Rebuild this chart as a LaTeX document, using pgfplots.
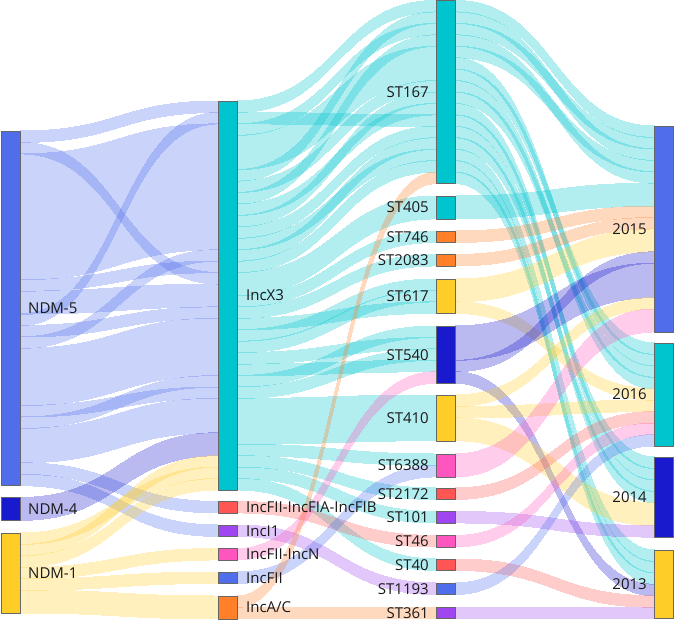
\documentclass[border=0pt]{standalone}
\usepackage{pgfplots}
\pgfplotsset{compat=1.18}
\usepackage{pgfplotstable}
\usepgfplotslibrary{patchplots}
\usepackage{fontspec}
\setmainfont{Open Sans}

\newcommand\U{11.44}
% links: g = gap (0,1,2); sn = source node top; so = offset in source (units);
% tn = target node top; to = offset in target (units); w = value (units); c = colour index
\pgfplotstableread{
g sn so tn to w c
0 131 0 101 0 1 0
0 131 1 101 15 1 0
0 131 2 101 2 11 0
0 131 13 101 14 1 0
0 131 14 101 16 2 0
0 131 16 101 1 1 0
0 131 17 101 18 1 0
0 131 18 101 13 1 0
0 131 19 101 19 5 0
0 131 24 101 25 1 0
0 131 25 101 24 1 0
0 131 26 101 26 3 0
0 131 29 501.5 0 1 0
0 131 30 525 0 1 0
0 497.5 0 101 29 2 1
0 533 0 101 32 1 2
0 533 1 101 31 1 2
0 533 2 101 33 1 2
0 533 3 548.5 0 1 2
0 533 4 572 0 1 2
0 533 5 596 0 2 2
1 101 0 0.5 0 1 3
1 101 1 0.5 10 1 3
1 101 2 0.5 2 1 3
1 101 3 0.5 4 3 3
1 101 6 0.5 1 1 3
1 101 7 0.5 7 1 3
1 101 8 0.5 3 1 3
1 101 9 0.5 9 1 3
1 101 10 0.5 8 1 3
1 101 11 0.5 11 1 3
1 101 12 0.5 13 1 3
1 101 13 0.5 12 1 3
1 101 14 0.5 14 1 3
1 101 15 196 0 2 3
1 101 17 231 0 1 3
1 101 18 254.5 0 1 3
1 101 19 279 2 1 3
1 101 20 279 0 1 3
1 101 21 279 1 1 3
1 101 22 326 1 1 3
1 101 23 326 3 1 3
1 101 24 326 0 1 3
1 101 25 326 2 1 3
1 101 26 395 0 4 3
1 101 30 454 0 1 3
1 101 31 488 0 1 3
1 101 32 511.5 0 1 3
1 101 33 559 0 1 3
1 501.5 0 535.5 0 1 4
1 525 0 583 0 1 5
1 548.5 0 326 4 1 6
1 572 0 454 1 1 0
1 596 0 0.5 15 1 7
1 596 1 607 0 1 7
2 0.5 0 126 0 1 3
2 0.5 1 126 2 1 3
2 0.5 2 126 1 1 3
2 0.5 3 126 4 1 3
2 0.5 4 126 3 1 3
2 0.5 5 343 1 1 3
2 0.5 6 343 0 1 3
2 0.5 7 343 3 1 3
2 0.5 8 343 2 1 3
2 0.5 9 457 1 1 3
2 0.5 10 457 0 1 3
2 0.5 11 457 3 1 3
2 0.5 12 457 2 1 3
2 0.5 13 550 0 1 3
2 0.5 14 550 2 1 3
2 0.5 15 550 1 1 3
2 196 0 126 5 2 3
2 231 0 126 7 1 7
2 254.5 0 126 8 1 7
2 279 0 126 9 2 2
2 279 2 343 4 1 2
2 326 3 126 11 1 1
2 326 0 126 12 3 1
2 326 4 550 3 1 1
2 395 0 126 15 1 2
2 395 1 343 5 1 2
2 395 2 457 4 2 2
2 454 0 126 16 2 6
2 488 0 343 6 1 4
2 511.5 0 457 6 1 5
2 535.5 0 343 7 1 6
2 559 0 550 4 1 4
2 583 0 343 8 1 0
2 607 0 550 5 1 5
}\links

% nodes: x = left edge, top, n = value (units), c = colour index
\pgfplotstableread{
x top n c
1.5 131 31 0
1.5 497.5 2 1
1.5 533 7 2
218.5 101 34 3
218.5 501.5 1 4
218.5 525 1 5
218.5 548.5 1 6
218.5 572 1 0
218.5 596 2 7
436.5 0.5 16 3
436.5 196 2 3
436.5 231 1 7
436.5 254.5 1 7
436.5 279 3 2
436.5 326 5 1
436.5 395 4 2
436.5 454 2 6
436.5 488 1 4
436.5 511.5 1 5
436.5 535.5 1 6
436.5 559 1 4
436.5 583 1 0
436.5 607 1 5
654.5 126 18 0
654.5 343 9 3
654.5 457 7 1
654.5 550 6 2
}\nodestab

% one Coons patch (band) per link, built from the link table
\def\plotlinks{}%
\pgfplotstablegetrowsof{\links}%
\pgfmathtruncatemacro\lastlink{\pgfplotsretval-1}%
\pgfplotsforeachungrouped \i in {0,...,\lastlink}{%
  \pgfplotstablegetelem{\i}{g}\of\links\edef\Lg{\pgfplotsretval}%
  \pgfplotstablegetelem{\i}{sn}\of\links\edef\Lsn{\pgfplotsretval}%
  \pgfplotstablegetelem{\i}{so}\of\links\edef\Lso{\pgfplotsretval}%
  \pgfplotstablegetelem{\i}{tn}\of\links\edef\Ltn{\pgfplotsretval}%
  \pgfplotstablegetelem{\i}{to}\of\links\edef\Lto{\pgfplotsretval}%
  \pgfplotstablegetelem{\i}{w}\of\links\edef\Lw{\pgfplotsretval}%
  \pgfplotstablegetelem{\i}{c}\of\links\edef\Lc{\pgfplotsretval}%
  \pgfmathsetmacro\Lxs{\Lg==0 ? 20 : (\Lg==1 ? 237 : 455)}%
  \pgfmathsetmacro\Lxt{\Lg==0 ? 218.5 : (\Lg==1 ? 436.5 : 654.5)}%
  \pgfmathsetmacro\Lxm{(\Lxs+\Lxt)/2}%
  \pgfmathsetmacro\Lst{\Lsn+\Lso*\U}%
  \pgfmathsetmacro\Lsb{\Lst+\Lw*\U}%
  \pgfmathsetmacro\Ltt{\Ltn+\Lto*\U}%
  \pgfmathsetmacro\Ltb{\Ltt+\Lw*\U}%
  \edef\plotlinks{\unexpanded\expandafter{\plotlinks}\noexpand\addplot[lnk] coordinates {
    (\Lxs,\Lst) [\Lc] (\Lxm,\Lst) [\Lc] (\Lxm,\Ltt) [\Lc] (\Lxt,\Ltt) [\Lc]
    (\Lxt,\Ltt) [\Lc] (\Lxt,\Ltb) [\Lc] (\Lxt,\Ltb) [\Lc] (\Lxm,\Ltb) [\Lc]
    (\Lxm,\Lsb) [\Lc] (\Lxs,\Lsb) [\Lc] (\Lxs,\Lsb) [\Lc] (\Lxs,\Lst) [\Lc]};}%
}%
\def\nodecoords{}%
\pgfplotstablegetrowsof{\nodestab}%
\pgfmathtruncatemacro\lastnode{\pgfplotsretval-1}%
\pgfplotsforeachungrouped \i in {0,...,\lastnode}{%
  \pgfplotstablegetelem{\i}{x}\of\nodestab\edef\Nx{\pgfplotsretval}%
  \pgfplotstablegetelem{\i}{top}\of\nodestab\edef\Nt{\pgfplotsretval}%
  \pgfplotstablegetelem{\i}{n}\of\nodestab\edef\Nn{\pgfplotsretval}%
  \pgfplotstablegetelem{\i}{c}\of\nodestab\edef\Nc{\pgfplotsretval}%
  \pgfmathsetmacro\Nxr{\Nx+18.5}%
  \pgfmathsetmacro\Nb{\Nt+\Nn*\U}%
  \edef\nodecoords{\nodecoords (\Nx,\Nt) [\Nc] (\Nxr,\Nt) [\Nc] (\Nxr,\Nb) [\Nc] (\Nx,\Nb) [\Nc]}%
}%
\edef\plotnodes{\noexpand\addplot[patch, patch type=rectangle, shader=faceted,
  faceted color=black!60, line width=0.5pt, point meta=explicit, forget plot]
  coordinates {\nodecoords};}%

\pgfplotsset{lnk/.style={patch, patch type=coons, shader=interp,
  point meta=explicit, fill opacity=0.3, forget plot}}
\tikzset{lab/.style={font=\fontsize{15}{17}\selectfont, inner sep=0pt, text=black!90, yshift=-5.4pt}}

\begin{document}
\begin{tikzpicture}
\begin{axis}[
  width=675pt, height=621pt, scale only axis,
  xmin=0, xmax=675, ymin=0, ymax=621, y dir=reverse,
  axis lines=none, clip=false,
  colormap={sk}{rgb255=(80,110,235) rgb255=(25,25,205) rgb255=(255,205,40)
    rgb255=(0,196,206) rgb255=(255,85,85) rgb255=(160,70,240)
    rgb255=(255,85,190) rgb255=(255,128,40)},
  colormap access=direct,
]
\path (rel axis cs:0,0) rectangle (rel axis cs:1,1);
\plotlinks
\plotnodes
% column 1
\node[lab, anchor=base west] at (axis cs:28,308.3) {NDM-5};
\node[lab, anchor=base west] at (axis cs:28,509) {NDM-4};
\node[lab, anchor=base west] at (axis cs:28,573) {NDM-1};
% column 2
\node[lab, anchor=base west] at (axis cs:246,295.5) {IncX3};
\node[lab, anchor=base west] at (axis cs:246,507.2) {IncFII-IncFIA-IncFIB};
\node[lab, anchor=base west] at (axis cs:246,530.7) {IncI1};
\node[lab, anchor=base west] at (axis cs:246,554.2) {IncFII-IncN};
\node[lab, anchor=base west] at (axis cs:246,577.7) {IncFII};
\node[lab, anchor=base west] at (axis cs:246,607.4) {IncA/C};
% column 3
\node[lab, anchor=base east] at (axis cs:429,92) {ST167};
\node[lab, anchor=base east] at (axis cs:429,207.4) {ST405};
\node[lab, anchor=base east] at (axis cs:429,236.7) {ST746};
\node[lab, anchor=base east] at (axis cs:429,260.2) {ST2083};
\node[lab, anchor=base east] at (axis cs:429,296.2) {ST617};
\node[lab, anchor=base east] at (axis cs:429,354.6) {ST540};
\node[lab, anchor=base east] at (axis cs:429,417.9) {ST410};
\node[lab, anchor=base east] at (axis cs:429,465.4) {ST6388};
\node[lab, anchor=base east] at (axis cs:429,493.7) {ST2172};
\node[lab, anchor=base east] at (axis cs:429,517.2) {ST101};
\node[lab, anchor=base east] at (axis cs:429,541.2) {ST46};
\node[lab, anchor=base east] at (axis cs:429,564.7) {ST40};
\node[lab, anchor=base east] at (axis cs:429,588.7) {ST1193};
\node[lab, anchor=base east] at (axis cs:429,612.7) {ST361};
% column 4
\node[lab, anchor=base east] at (axis cs:647,229) {2015};
\node[lab, anchor=base east] at (axis cs:647,394.5) {2016};
\node[lab, anchor=base east] at (axis cs:647,497) {2014};
\node[lab, anchor=base east] at (axis cs:647,584.3) {2013};
\end{axis}
\end{tikzpicture}
\end{document}
